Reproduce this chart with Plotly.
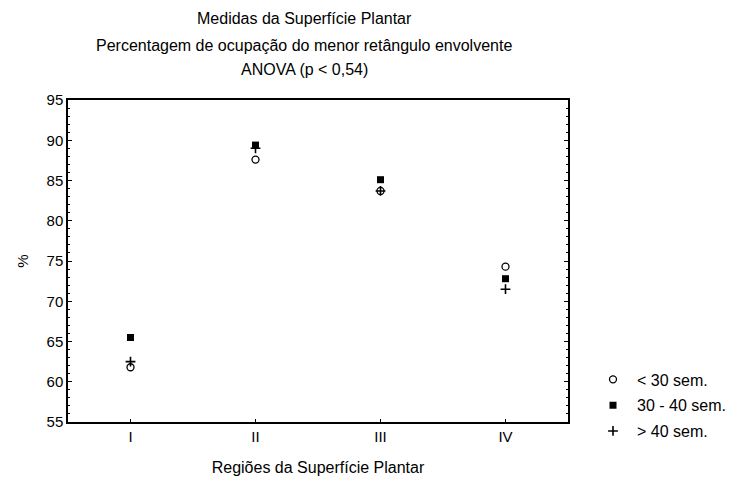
import plotly.graph_objects as go

categories = ["I", "II", "III", "IV"]
series_names = ["< 30 sem.", "30 - 40 sem.", "> 40 sem."]
vals_lt30 = [61.8, 87.6, 83.7, 74.3]
vals_30_40 = [65.5, 89.4, 85.1, 72.8]
vals_gt40 = [62.5, 89.0, 83.7, 71.5]
y_ticks = [55, 60, 65, 70, 75, 80, 85, 90, 95]

font = "Liberation Sans, Arial, sans-serif"
xpos = [1, 2, 3, 4]

fig = go.Figure()
styles = [
    dict(symbol="circle-open", size=7, color="black", line=dict(width=1.3, color="black")),
    dict(symbol="square", size=7, color="black"),
    dict(symbol="cross-thin", size=7, color="black", line=dict(width=1.6, color="black")),
]
for name, vals, st in zip(series_names, [vals_lt30, vals_30_40, vals_gt40], styles):
    fig.add_trace(go.Scatter(x=xpos, y=vals, mode="markers", name=name,
                             legendgroup=name, marker=st))

fig.update_layout(
    width=737, height=481,
    margin=dict(l=68, r=169, t=100, b=59, autoexpand=False),
    paper_bgcolor="white", plot_bgcolor="white",
    font=dict(family=font, size=16, color="black"),
    showlegend=True,
    legend=dict(x=1.042, xanchor="left", y=0.185, yanchor="top",
                font=dict(size=16), tracegroupgap=2, itemwidth=38,
                bgcolor="rgba(0,0,0,0)"),
    xaxis=dict(range=[0.5, 4.5], tickmode="array", tickvals=xpos, ticktext=categories,
               showline=True, linecolor="black", linewidth=1.5, mirror=True,
               ticks="inside", ticklen=3, tickcolor="black", showgrid=False, zeroline=False,
               tickfont=dict(size=15),
               title=dict(text="Regiões da Superfície Plantar", font=dict(size=16), standoff=18)),
    yaxis=dict(range=[55, 95], tickmode="array", tickvals=y_ticks,
               showline=True, linecolor="black", linewidth=1.5, mirror="ticks",
               ticks="inside", ticklen=4, tickcolor="black", showgrid=False, zeroline=False,
               tickfont=dict(size=15),
               minor=dict(dtick=1, ticks="inside", ticklen=2, tickcolor="black"),
               title=dict(text="%", font=dict(size=15), standoff=14)),
)

titles = ["Medidas da Superfície Plantar",
          "Percentagem de ocupação do menor retângulo envolvente",
          "ANOVA (p < 0,54)"]
for t, yy in zip(titles, [18, 45, 70]):
    fig.add_annotation(text=t, xref="paper", yref="paper",
                       x=(304 - 68) / 500, y=1 + (100 - yy) / 322,
                       xanchor="center", yanchor="middle", showarrow=False,
                       font=dict(size=16, family=font))

fig.write_html("out.html")
